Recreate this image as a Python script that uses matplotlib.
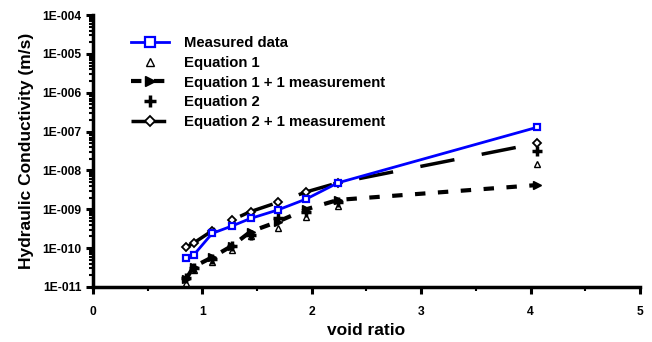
import matplotlib.pyplot as plt
from matplotlib.ticker import MultipleLocator, LogLocator, NullFormatter

plt.rcParams['font.family'] = ['Liberation Sans', 'DejaVu Sans']
plt.rcParams['font.weight'] = 'bold'

void_ratio = [0.85, 0.92, 1.09, 1.27, 1.44, 1.69, 1.95, 2.24, 4.06]
measured = [5.5e-11, 6.6e-11, 2.4e-10, 3.7e-10, 5.8e-10, 9.6e-10, 1.84e-9, 4.8e-9, 1.29e-7]
eq1 = [1.25e-11, 2.7e-11, 4.5e-11, 9e-11, 2.0e-10, 3.2e-10, 6.4e-10, 1.2e-9, 1.47e-8]
eq1_meas = [1.58e-11, 3.3e-11, 5.8e-11, 1.14e-10, 2.65e-10, 4.8e-10, 1.0e-9, 1.74e-9, 4.2e-9]
eq2 = [1.7e-11, 3.0e-11, 5.2e-11, 1.1e-10, 2.2e-10, 5.9e-10, 8.7e-10, 1.58e-9, 3.2e-8]
eq2_meas = [1.05e-10, 1.35e-10, 2.8e-10, 5.3e-10, 8.7e-10, 1.5e-9, 2.8e-9, 4.8e-9, 5.0e-8]

fig = plt.figure(figsize=(6.52, 3.42), dpi=100)
ax = fig.add_axes([0.1426, 0.161, 0.839, 0.795])

ax.plot(void_ratio, measured, color='#0000ff', lw=2, marker='s', ms=5,
        mfc='white', mec='#0000ff', mew=1.6, label='Measured data', zorder=5)
ax.plot(void_ratio, eq1, ls='none', marker='^', ms=4.5, mfc='white', mec='black',
        mew=1, label='Equation 1', zorder=4)
ax.plot(void_ratio, eq1_meas, color='black', lw=3, dashes=(2.5, 3), marker='>',
        ms=6, mfc='black', mec='black', label='Equation 1 + 1 measurement', zorder=3)
ax.plot(void_ratio, eq2, ls='none', marker='+', ms=6.5, mec='black', mew=2.5,
        label='Equation 2', zorder=4)
ax.plot(void_ratio, eq2_meas, color='black', lw=2.5, dashes=(10, 8), marker='D',
        ms=4, mfc='white', mec='black', mew=1.3, label='Equation 2 + 1 measurement', zorder=3)

ax.set_yscale('log')
ax.set_ylim(1e-11, 1e-4)
ax.set_xlim(0, 5)
ax.xaxis.set_major_locator(MultipleLocator(1))
ax.xaxis.set_minor_locator(MultipleLocator(0.5))
ax.yaxis.set_minor_locator(LogLocator(base=10, subs=range(2, 10), numticks=20))
ax.yaxis.set_minor_formatter(NullFormatter())
exps = list(range(-11, -3))
ax.set_yticks([10.0 ** e for e in exps])
ax.set_yticklabels(['1E-%03d' % -e for e in exps])

ax.spines['top'].set_visible(False)
ax.spines['right'].set_visible(False)
ax.spines['left'].set_linewidth(2.5)
ax.spines['bottom'].set_linewidth(2.5)
ax.tick_params(axis='both', which='major', direction='out', length=5, width=2.2, labelsize=8.7)
ax.tick_params(axis='both', which='minor', direction='out', length=3, width=1.5)
ax.tick_params(axis='x', which='major', pad=9)
ax.tick_params(axis='y', which='major', pad=3)

ax.set_xlabel('void ratio', fontsize=12.5, fontweight='bold', labelpad=3)
ax.set_ylabel('Hydraulic Conductivity (m/s)', fontsize=12.5, fontweight='bold', labelpad=6)

leg = ax.legend(loc='upper left', bbox_to_anchor=(0.05, 0.96), frameon=False,
                fontsize=10.7, handlelength=2.6, handletextpad=1.0, markerscale=1.3,
                labelspacing=0.38, borderpad=0.2)
for t in leg.get_texts():
    t.set_fontweight('bold')

fig.savefig('out.png', dpi=100)
